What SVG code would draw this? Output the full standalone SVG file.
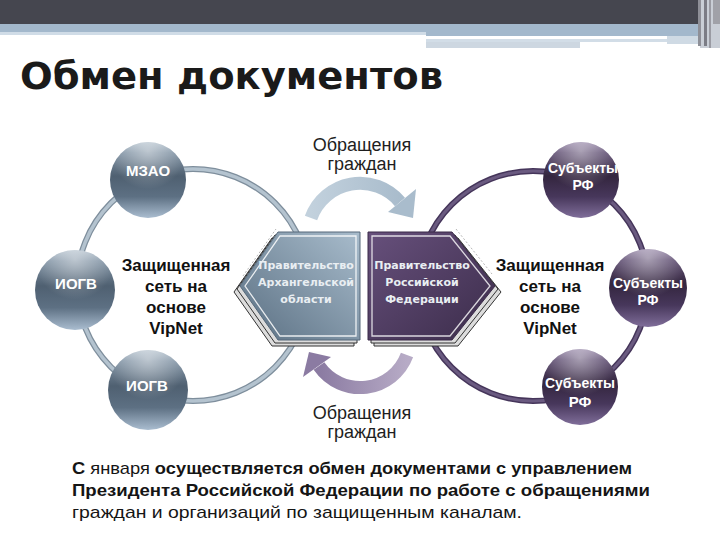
<svg xmlns="http://www.w3.org/2000/svg" width="720" height="540" viewBox="0 0 720 540">
<defs>
<linearGradient id="gBlue" x1="0" y1="0" x2="0" y2="1">
<stop offset="0" stop-color="#b2c0cc"/><stop offset="0.14" stop-color="#8294a5"/><stop offset="0.45" stop-color="#4f6071"/><stop offset="0.72" stop-color="#5d7083"/><stop offset="1" stop-color="#aabdd0"/>
</linearGradient>
<linearGradient id="gPurp" x1="0" y1="0" x2="0" y2="1">
<stop offset="0" stop-color="#9484a6"/><stop offset="0.14" stop-color="#5f4e72"/><stop offset="0.45" stop-color="#34263f"/><stop offset="0.72" stop-color="#47375b"/><stop offset="1" stop-color="#806e9a"/>
</linearGradient>
<radialGradient id="gHl" cx="0.5" cy="0.12" r="0.5">
<stop offset="0" stop-color="#ffffff" stop-opacity="0.45"/><stop offset="1" stop-color="#ffffff" stop-opacity="0"/>
</radialGradient>
<linearGradient id="gHexL" x1="1" y1="0" x2="0" y2="1">
<stop offset="0" stop-color="#a8bccc"/><stop offset="1" stop-color="#5a6f82"/>
</linearGradient>
<linearGradient id="gHexR" x1="0" y1="0" x2="1" y2="1">
<stop offset="0" stop-color="#67507c"/><stop offset="1" stop-color="#3b2c4a"/>
</linearGradient>
<linearGradient id="gArrT" x1="0" y1="0" x2="1" y2="0">
<stop offset="0" stop-color="#c2d1dd"/><stop offset="1" stop-color="#a9bccc"/>
</linearGradient>
<linearGradient id="gArrB" x1="1" y1="0" x2="0" y2="0">
<stop offset="0" stop-color="#b7abc6"/><stop offset="1" stop-color="#8b7ba2"/>
</linearGradient>
</defs>
<style>
.lbl{font-family:"Liberation Sans",Arial,sans-serif;font-weight:bold;fill:#ffffff;text-anchor:middle}
.hx{font-family:"DejaVu Sans","Liberation Sans",sans-serif;font-size:11px;font-weight:bold;fill:#e9eef2;text-anchor:middle}
.net{font-family:"Liberation Sans",Arial,sans-serif;font-weight:bold;font-size:17px;fill:#111111;text-anchor:middle}
.obr{font-family:"Liberation Sans",Arial,sans-serif;font-size:18px;fill:#1e1e1e;text-anchor:middle}
.par{font-family:"Liberation Sans",Arial,sans-serif;font-size:17px;fill:#151515}
.b{font-weight:bold}
.sph{stroke:none}
.shd{fill:#dcdcdc;stroke:#333333;stroke-width:1}
</style>
<rect width="720" height="540" fill="#ffffff"/>
<g id="header">
<rect x="0" y="0" width="700" height="24" fill="#45464f"/>
<rect x="0" y="24" width="700" height="8" fill="#a3b8cc"/>
<rect x="0" y="32" width="426" height="3" fill="#d0dce7"/>
<rect x="426" y="32" width="274" height="4" fill="#a3b8cc"/>
<rect x="426" y="39" width="241" height="3" fill="#d2dde7"/>
<rect x="426" y="42" width="154" height="6" fill="#cdd7e1"/>
<rect x="667" y="36" width="33" height="8" fill="#cfdae4"/>
<rect x="700" y="0" width="20" height="48" fill="#c9ced6"/>
<rect x="698" y="0" width="3" height="46" fill="#8e8f97"/>
<rect x="704" y="0" width="3" height="46" fill="#7b7c85"/>
<rect x="709" y="0" width="2" height="48" fill="#9a9ba3"/>
<rect x="713" y="0" width="7" height="24" fill="#a0a1a8"/>
</g>
<text id="title" x="20" y="89" font-family="'DejaVu Sans','Liberation Sans',sans-serif" font-weight="bold" font-size="37" fill="#1a1a1a" textLength="423" lengthAdjust="spacingAndGlyphs">Обмен документов</text>
<g id="connectors">
<circle cx="193" cy="285" r="116" fill="none" stroke="#7e8e9c" stroke-width="6"/>
<circle cx="193" cy="285" r="116" fill="none" stroke="#b4c3cf" stroke-width="3.5"/>
<circle cx="533" cy="286" r="115" fill="none" stroke="#45355a" stroke-width="6"/>
<circle cx="533" cy="286" r="115" fill="none" stroke="#6a5a80" stroke-width="3"/>
<g id="arrow-top">
<path d="M 311 218 A 52 52 0 0 1 400 202" fill="none" stroke="url(#gArrT)" stroke-width="13"/>
<polygon points="416,189 388,212 413,218" fill="#a9bccc"/>
</g>
<g id="arrow-bottom">
<path d="M 407 355 A 50 50 0 0 1 319 366" fill="none" stroke="url(#gArrB)" stroke-width="13"/>
<polygon points="303,377 331,357 309,352" fill="#8b7ba2"/>
</g>
</g>
<g id="hex-arkh">
<polygon class="shd" points="234,292 272,238 354,238 354,346 272,346"/>
<polygon class="shd" points="237,289 275,235 357,235 357,343 275,343"/>
<polygon points="240,286 278,232 360,232 360,340 278,340" fill="url(#gHexL)" stroke="#56697a" stroke-width="1"/>
<polygon points="245,286 280,236 356,236 356,336 280,336" fill="none" stroke="#ffffff" stroke-width="1.3" stroke-opacity="0.85"/>
<line x1="243" y1="276" x2="276" y2="229" stroke="#b8b8b8" stroke-width="1" stroke-dasharray="2,2"/>
<text class="hx" x="306" y="269">Правительство</text>
<text class="hx" x="306" y="286">Архангельской</text>
<text class="hx" x="306" y="303">области</text>
</g>
<g id="hex-rf">
<polygon class="shd" points="374,238 458,238 501,292 458,346 374,346"/>
<polygon class="shd" points="371,235 455,235 498,289 455,343 371,343"/>
<polygon points="368,232 452,232 495,286 452,340 368,340" fill="url(#gHexR)" stroke="#3a2b48" stroke-width="1"/>
<polygon points="372,236 450,236 490,286 450,336 372,336" fill="none" stroke="#ffffff" stroke-width="1.3" stroke-opacity="0.8"/>
<line x1="456" y1="229" x2="492" y2="274" stroke="#b8b8b8" stroke-width="1" stroke-dasharray="2,2"/>
<text class="hx" x="422" y="269">Правительство</text>
<text class="hx" x="422" y="286">Российской</text>
<text class="hx" x="422" y="303">Федерации</text>
</g>
<g id="node-mzao">
<circle class="sph" cx="148" cy="180" r="38" fill="url(#gBlue)"/>
<circle class="sph" cx="148" cy="180" r="38" fill="url(#gHl)"/>
<text class="lbl" x="148" y="176" font-size="15">МЗАО</text>
</g>
<g id="node-iogv1">
<circle class="sph" cx="75" cy="290" r="40" fill="url(#gBlue)"/>
<circle class="sph" cx="75" cy="290" r="40" fill="url(#gHl)"/>
<text class="lbl" x="76" y="289" font-size="15">ИОГВ</text>
</g>
<g id="node-iogv2">
<circle class="sph" cx="148" cy="390" r="40" fill="url(#gBlue)"/>
<circle class="sph" cx="148" cy="390" r="40" fill="url(#gHl)"/>
<text class="lbl" x="147" y="391" font-size="15">ИОГВ</text>
</g>
<g id="node-subj1">
<circle class="sph" cx="581" cy="180" r="38" fill="url(#gPurp)"/>
<circle class="sph" cx="581" cy="180" r="38" fill="url(#gHl)"/>
<text class="lbl" x="583" y="173" font-size="14">Субъекты</text>
<text class="lbl" x="583" y="190" font-size="14">РФ</text>
</g>
<g id="node-subj2">
<circle class="sph" cx="648" cy="288" r="39" fill="url(#gPurp)"/>
<circle class="sph" cx="648" cy="288" r="39" fill="url(#gHl)"/>
<text class="lbl" x="648" y="288" font-size="14">Субъекты</text>
<text class="lbl" x="648" y="305" font-size="14">РФ</text>
</g>
<g id="node-subj3">
<circle class="sph" cx="580" cy="387" r="38" fill="url(#gPurp)"/>
<circle class="sph" cx="580" cy="387" r="38" fill="url(#gHl)"/>
<text class="lbl" x="580" y="388" font-size="14">Субъекты</text>
<text class="lbl" x="580" y="407" font-size="15">РФ</text>
</g>
<g id="net-left">
<text class="net" x="176" y="271">Защищенная</text>
<text class="net" x="176" y="292">сеть на</text>
<text class="net" x="176" y="313">основе</text>
<text class="net" x="176" y="334">VipNet</text>
</g>
<g id="net-right">
<text class="net" x="550" y="271">Защищенная</text>
<text class="net" x="550" y="292">сеть на</text>
<text class="net" x="550" y="313">основе</text>
<text class="net" x="550" y="334">VipNet</text>
</g>
<g id="label-top">
<text class="obr" x="362" y="151">Обращения</text>
<text class="obr" x="362" y="170">граждан</text>
</g>
<g id="label-bottom">
<text class="obr" x="362" y="419">Обращения</text>
<text class="obr" x="362" y="438">граждан</text>
</g>
<g id="paragraph">
<text class="par" x="72" y="474" textLength="560" lengthAdjust="spacingAndGlyphs"><tspan class="b">С</tspan> января <tspan class="b">осуществляется обмен документами с управлением</tspan></text>
<text class="par b" x="72" y="496" textLength="578" lengthAdjust="spacingAndGlyphs">Президента Российской Федерации по работе с обращениями</text>
<text class="par" x="72" y="518" textLength="450" lengthAdjust="spacingAndGlyphs">граждан и организаций по защищенным каналам.</text>
</g>
</svg>
